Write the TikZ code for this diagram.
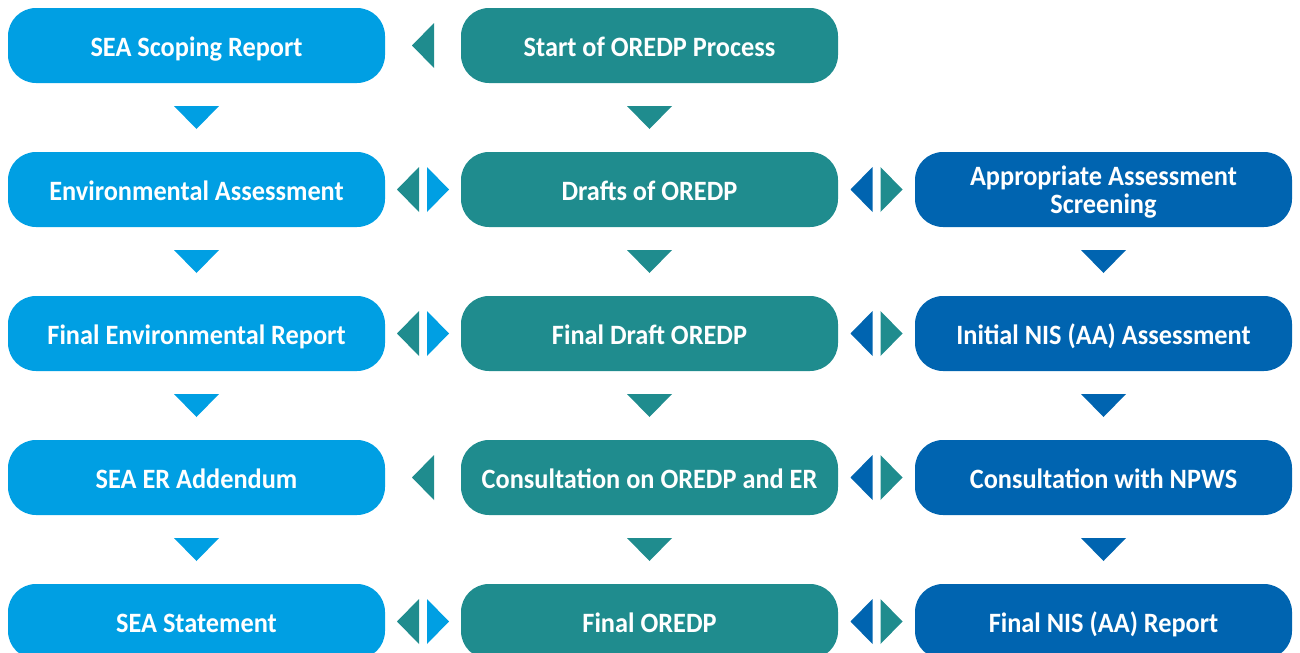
\documentclass[tikz,border=0pt]{standalone}
\usepackage{fontspec}
\setmainfont{Carlito}[FakeStretch=0.94]
\usetikzlibrary{calc}
\definecolor{lblue}{HTML}{009FE3}
\definecolor{tealc}{HTML}{1F8C8E}
\definecolor{dblue}{HTML}{0064B0}
\tikzset{
  box/.style={rounded corners=21pt, minimum width=282.75pt, minimum height=56.25pt,
    inner sep=0pt, text=white, font=\bfseries\fontsize{21}{21}\selectfont, align=center,
    text depth=0pt},
  oneline/.style={text height=16.5pt},
  bA/.style={box, oneline, fill=lblue},
  bB/.style={box, oneline, fill=tealc},
  bC/.style={box, oneline, fill=dblue},
  bCtwo/.style={box, fill=dblue},
}
% down triangle between two nodes
\newcommand{\downtri}[3]{\fill[#1] ($(#2.south)!0.5!(#3.north)$) ++(-22.5,-11.5) -- ++(45,0) -- ++(-22.5,23) -- cycle;}
% left- / right-pointing triangle centred in the gap between two nodes, shifted by #4
\newcommand{\lefttri}[4]{\fill[#1] ($(#2.east)!0.5!(#3.west)$) ++(#4,0) ++(-11,0) -- ++(22,-22.5) -- ++(0,45) -- cycle;}
\newcommand{\righttri}[4]{\fill[#1] ($(#2.east)!0.5!(#3.west)$) ++(#4,0) ++(11,0) -- ++(-22,-22.5) -- ++(0,45) -- cycle;}
\begin{document}
\begin{tikzpicture}[x=0.75pt,y=-0.75pt]
\useasboundingbox (0,0) rectangle (1300,653);
\clip (0,0) rectangle (1300,653);
% column 1
\node[bA] (a1) at (196.5,45.5) {SEA Scoping Report};
\node[bA] (a2) at (196.5,189.5) {Environmental Assessment};
\node[bA] (a3) at (196.5,333.5) {Final Environmental Report};
\node[bA] (a4) at (196.5,477.5) {SEA ER Addendum};
\node[bA] (a5) at (196.5,621.5) {SEA Statement};
% column 2
\node[bB] (b1) at (649.5,45.5) {Start of OREDP Process};
\node[bB] (b2) at (649.5,189.5) {Drafts of OREDP};
\node[bB] (b3) at (649.5,333.5) {Final Draft OREDP};
\node[bB] (b4) at (649.5,477.5) {Consultation on OREDP and ER};
\node[bB] (b5) at (649.5,621.5) {Final OREDP};
% column 3
\node[bCtwo] (c2) at (1103.5,189.5) {Appropriate Assessment\\[0pt]Screening};
\node[bC] (c3) at (1103.5,333.5) {Initial NIS (AA) Assessment};
\node[bC] (c4) at (1103.5,477.5) {Consultation with NPWS};
\node[bC] (c5) at (1103.5,621.5) {Final NIS (AA) Report};
% vertical connectors
\downtri{lblue}{a1}{a2}\downtri{lblue}{a2}{a3}\downtri{lblue}{a3}{a4}\downtri{lblue}{a4}{a5}
\downtri{tealc}{b1}{b2}\downtri{tealc}{b2}{b3}\downtri{tealc}{b3}{b4}\downtri{tealc}{b4}{b5}
\downtri{dblue}{c2}{c3}\downtri{dblue}{c3}{c4}\downtri{dblue}{c4}{c5}
% horizontal connectors col1-col2
\lefttri{tealc}{a1}{b1}{0}
\lefttri{tealc}{a2}{b2}{-15}\righttri{lblue}{a2}{b2}{15}
\lefttri{tealc}{a3}{b3}{-15}\righttri{lblue}{a3}{b3}{15}
\lefttri{tealc}{a4}{b4}{0}
\lefttri{tealc}{a5}{b5}{-15}\righttri{lblue}{a5}{b5}{15}
% horizontal connectors col2-col3
\lefttri{dblue}{b2}{c2}{-15}\righttri{tealc}{b2}{c2}{15}
\lefttri{dblue}{b3}{c3}{-15}\righttri{tealc}{b3}{c3}{15}
\lefttri{dblue}{b4}{c4}{-15}\righttri{tealc}{b4}{c4}{15}
\lefttri{dblue}{b5}{c5}{-15}\righttri{tealc}{b5}{c5}{15}
\end{tikzpicture}
\end{document}
